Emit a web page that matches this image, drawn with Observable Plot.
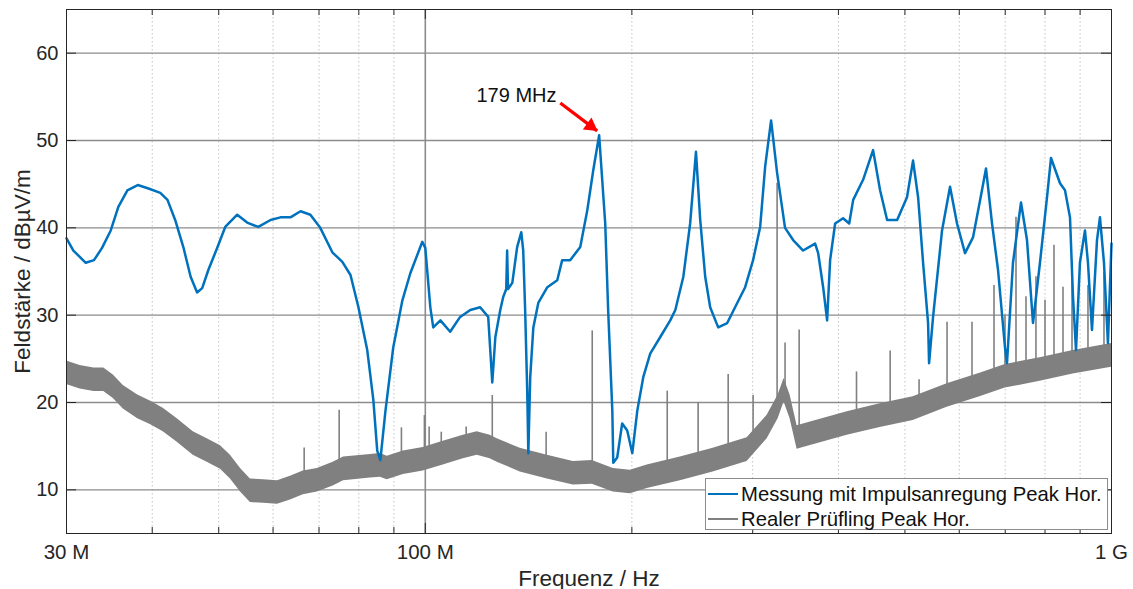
<!DOCTYPE html>
<html>
<head>
<meta charset="utf-8">
<script src="https://cdn.jsdelivr.net/npm/d3@7"></script>
<script src="https://cdn.jsdelivr.net/npm/@observablehq/plot@0.6"></script>
<style>
  body { margin: 0; background: #fff; }
  #wrap { position: relative; width: 1133px; height: 589px; font-family: "Liberation Sans", Arial, sans-serif; }
  #legend { position: absolute; left: 705px; top: 478px; width: 403px; height: 52px; box-sizing: border-box;
            border: 1px solid #8c8c8c; background: #fff; font-size: 20.3px; color: #111; }
  .row { position: absolute; left: 2px; height: 24px; display: flex; align-items: center; white-space: nowrap; }
  .sw { width: 30px; height: 0; border-top: 2px solid; margin-right: 3px; }
</style>
</head>
<body>
<div id="wrap"></div>
<script>
// ---- data (frequency in MHz, level in dBµV/m) ----
const messung = [[30,38.8],[30.7,37.4],[32.0,36.0],[32.9,36.3],[33.8,37.7],[34.8,39.7],[35.7,42.4],[36.8,44.3],[38.1,44.9],[39.5,44.5],[41.1,44.0],[42.1,43.2],[43.2,40.9],[44.4,37.8],[45.5,34.4],[46.5,32.6],[47.3,33.1],[48.3,35.2],[49.8,37.8],[51.1,40.1],[53.2,41.5],[55.0,40.6],[57.1,40.1],[59.5,40.9],[61.5,41.2],[63.6,41.2],[65.8,41.9],[68.0,41.5],[70.3,40.0],[73.2,37.2],[75.7,36.1],[77.8,34.6],[79.9,30.9],[82.3,26.0],[84.0,20.3],[85.1,14.5],[86.0,13.4],[87.5,19.1],[89.8,26.3],[92.6,31.7],[95.1,34.8],[99.0,38.4],[100,37.7],[101.7,30.9],[102.7,28.6],[105.2,29.4],[108.7,28.1],[112.4,29.8],[116.3,30.6],[120.2,30.9],[123.5,29.8],[125.2,22.3],[126.5,27.5],[128.6,30.6],[129.9,32.1],[131.2,33.0],[131.6,37.4],[132.0,33.0],[133.9,33.7],[136.1,37.8],[138.0,39.5],[138.9,37.4],[139.8,30.6],[140.8,21.1],[141.3,14.2],[142.2,22.9],[143.7,28.6],[146.1,31.4],[150.6,33.2],[155.7,34.0],[158.3,36.3],[162.6,36.3],[168.2,37.8],[172.2,42.0],[175.7,46.6],[179.2,50.6],[182.9,40.5],[184.7,30.6],[187.3,19.1],[187.9,13.1],[190.4,13.7],[193.6,17.6],[196.9,16.8],[200.3,14.2],[203.7,19.1],[207.8,22.9],[212.7,25.6],[220.0,27.5],[227.5,29.4],[231.4,30.6],[237.7,34.4],[243.2,40.5],[248.0,48.7],[251.5,41.0],[255.8,34.4],[260.1,30.9],[267.2,28.6],[275.4,29.1],[284.8,31.4],[292.5,33.2],[300.4,36.3],[307.6,40.1],[312.8,47.0],[319.1,52.3],[325.6,46.3],[334.4,40.0],[343.6,38.6],[355.3,37.4],[369.9,38.2],[373.7,37.1],[380.0,33.2],[385.1,29.4],[389.0,36.3],[395.6,40.5],[406.3,41.1],[414.7,40.5],[420.3,43.2],[434.5,45.5],[449.3,48.9],[460.0,44.3],[471.0,40.9],[487.1,40.9],[503.5,43.5],[513.8,47.7],[522.6,43.5],[531.4,36.0],[540.4,29.1],[542.2,24.5],[549.5,29.8],[566.3,39.7],[581.7,44.7],[595.5,40.5],[611.7,37.1],[628.3,38.9],[647.5,44.3],[656.3,46.8],[669.7,40.5],[683.3,35.2],[699.5,26.3],[704.2,24.5],[718.5,36.0],[738.1,42.9],[753.1,38.6],[768.4,29.1],[786.6,36.0],[805.4,43.5],[816.3,48.0],[841.3,45.1],[855.5,44.3],[870.0,41.2],[878.8,32.1],[887.7,26.0],[899.5,36.0],[914.8,39.7],[924.1,36.0],[936.6,28.3],[952.5,38.6],[962.0,41.2],[975.1,36.0],[988.1,26.8],[1000,38.2]];

const realer = [[30,23.4],[31.4,22.9],[32.9,22.6],[34.0,22.6],[35.1,21.8],[36.3,20.6],[38.1,19.5],[39.8,18.8],[41.5,18.0],[43.5,16.8],[45.9,15.3],[48.1,14.5],[50.3,13.7],[52.0,12.6],[53.8,11.1],[55.6,9.9],[58.1,9.8],[60.9,9.7],[63.6,10.2],[66.4,10.8],[69.6,11.1],[73.4,11.8],[76.0,12.4],[83.2,12.7],[86.0,12.8],[88.0,12.5],[92.9,13.1],[99.3,13.5],[106.2,14.2],[113.6,14.9],[119.0,15.3],[124.3,14.9],[127.3,14.5],[137.5,13.4],[150.6,12.6],[164.3,11.9],[175.1,12.0],[187.9,11.1],[198.9,10.9],[210.6,11.5],[235.3,12.4],[262.7,13.4],[294.4,14.6],[314.9,17.2],[326.7,19.5],[333.3,21.4],[340.1,19.5],[348.2,16.0],[367.5,16.5],[411.9,17.6],[460,18.5],[514,19.3],[576,20.8],[643,22.0],[700,23.0],[790,23.8],[879,24.6],[1000,25.4]];

// noise spread of the real DUT trace (dB, half width)
const realerNoise = 1.35;

// narrow-band spikes of the real DUT trace: [MHz, peak dB]
const spikes = [[66.6,14.8],[74.9,19.1],[92.3,17.1],[99.7,18.5],[101.3,17.2],[105.5,16.6],[114.7,17.2],[125.2,20.8],[150.0,16.6],[175.1,28.2],[225.2,21.3],[249.8,20.0],[276.3,23.2],[300.4,20.8],[325.6,45.1],[334.4,26.8],[350.6,28.3],[425.0,23.5],[475.8,25.9],[524.3,22.6],[575.9,29.2],[626.2,29.2],[674.2,33.4],[699.5,30.0],[725.8,41.2],[750.6,32.1],[776.1,34.4],[800,31.7],[824.5,38.0],[849.8,33.2],[875.9,36.1],[924.1,33.4],[975.1,34.9]];

const xTickValues = [30, 100, 1000];
const xTickLabels = ["30 M", "100 M", "1 G"];
const xMinorTicks = [40,50,60,70,80,90,200,300,400,500,600,700,800,900];
const yTickValues = [10, 20, 30, 40, 50, 60];

const annotation = [{label: "179 MHz", textF: 155.3, textDb: 55.1, fromF: 157.3, fromDb: 54.3, toF: 178.0, toDb: 51.1}];

const seriesNames = ["Messung mit Impulsanregung Peak Hor.", "Realer Prüfling Peak Hor."];
const seriesColors = ["#0072BD", "#808080"];

// ---- layout ----
const W = 1133, H = 589, mL = 66, mR = 22, mT = 9, mB = 56;
const fw = W - mL - mR, fh = H - mT - mB;
const font = '"Liberation Sans", Arial, sans-serif';

const logF = realer.map(d => Math.log10(d[0]));
function realerAt(f) {
  const lf = Math.log10(f);
  const i = d3.bisectRight(logF, lf);
  if (i <= 0) return realer[0][1];
  if (i >= realer.length) return realer[realer.length - 1][1];
  const t = (lf - logF[i - 1]) / (logF[i] - logF[i - 1]);
  return realer[i - 1][1] + t * (realer[i][1] - realer[i - 1][1]);
}
const labelMap = new Map(xTickValues.map((v, i) => [v, xTickLabels[i]]));

const chart = Plot.plot({
  width: W, height: H,
  marginLeft: mL, marginRight: mR, marginTop: mT, marginBottom: mB,
  style: {fontFamily: font, background: "#fff", overflow: "visible"},
  x: {type: "log", domain: [30, 1000]},
  y: {domain: [5, 65]},
  marks: [
    Plot.ruleX(xMinorTicks, {stroke: "#c4c4c4", strokeDasharray: "1.5,2.5"}),
    Plot.ruleY(yTickValues, {stroke: "#8c8c8c", strokeWidth: 1.3}),
    Plot.ruleX([100], {stroke: "#8c8c8c", strokeWidth: 1.6}),
    Plot.areaY(realer, {x: d => d[0], y1: d => d[1] - realerNoise, y2: d => d[1] + realerNoise, fill: seriesColors[1]}),
    Plot.line(realer, {x: d => d[0], y: d => d[1], stroke: seriesColors[1], strokeWidth: 1.2}),
    Plot.ruleX(spikes, {x: d => d[0], y1: d => realerAt(d[0]), y2: d => d[1], stroke: seriesColors[1], strokeWidth: 1.6}),
    Plot.line(messung, {x: d => d[0], y: d => d[1], stroke: seriesColors[0], strokeWidth: 2.5}),
    Plot.link(annotation, {x1: "fromF", y1: "fromDb", x2: "toF", y2: "toDb", stroke: "#ff0000", strokeWidth: 3.2}),
    Plot.dot(annotation, {x: "toF", y: "toDb", symbol: "triangle", r: 5.5, fill: "#ff0000", stroke: "none", rotate: 126, dx: -6.5, dy: -4.8}),
    Plot.text(annotation, {x: "textF", y: "textDb", text: "label", textAnchor: "end", fontSize: 20, fill: "#111"}),
    // inward tick marks
    Plot.tickX(xMinorTicks, {x: d => d, insetTop: fh - 6, stroke: "#262626"}),
    Plot.tickX(xMinorTicks, {x: d => d, insetBottom: fh - 6, stroke: "#262626"}),
    Plot.tickX(xTickValues, {x: d => d, insetTop: fh - 10, stroke: "#262626"}),
    Plot.tickX(xTickValues, {x: d => d, insetBottom: fh - 10, stroke: "#262626"}),
    Plot.tickY(yTickValues, {y: d => d, insetRight: fw - 10, stroke: "#262626"}),
    Plot.tickY(yTickValues, {y: d => d, insetLeft: fw - 10, stroke: "#262626"}),
    Plot.frame({stroke: "#262626", strokeWidth: 1}),
    Plot.axisX(xTickValues, {anchor: "bottom", tickSize: 0, tickPadding: 11, tickFormat: d => labelMap.get(d), fontSize: 20.5, fill: "#262626", label: null}),
    Plot.axisY(yTickValues, {anchor: "left", tickSize: 0, tickPadding: 8, fontSize: 20, fill: "#262626", label: null}),
    Plot.text(["Frequenz / Hz"], {frameAnchor: "bottom", dy: 45, text: d => d, fontSize: 22.5, fill: "#262626", lineAnchor: "middle"}),
    Plot.text(["Feldstärke / dBµV/m"], {frameAnchor: "left", dx: -44, rotate: -90, text: d => d, fontSize: 22.5, fill: "#262626", lineAnchor: "middle", textAnchor: "middle"})
  ]
});

const wrap = document.getElementById("wrap");
wrap.appendChild(chart);
const legend = document.createElement("div");
legend.id = "legend";
seriesNames.forEach((name, i) => {
  const row = document.createElement("div");
  row.className = "row";
  row.style.top = (3 + i * 25) + "px";
  const sw = document.createElement("span");
  sw.className = "sw";
  sw.style.borderColor = seriesColors[i];
  row.appendChild(sw);
  row.appendChild(document.createTextNode(name));
  legend.appendChild(row);
});
wrap.appendChild(legend);
</script>
</body>
</html>
